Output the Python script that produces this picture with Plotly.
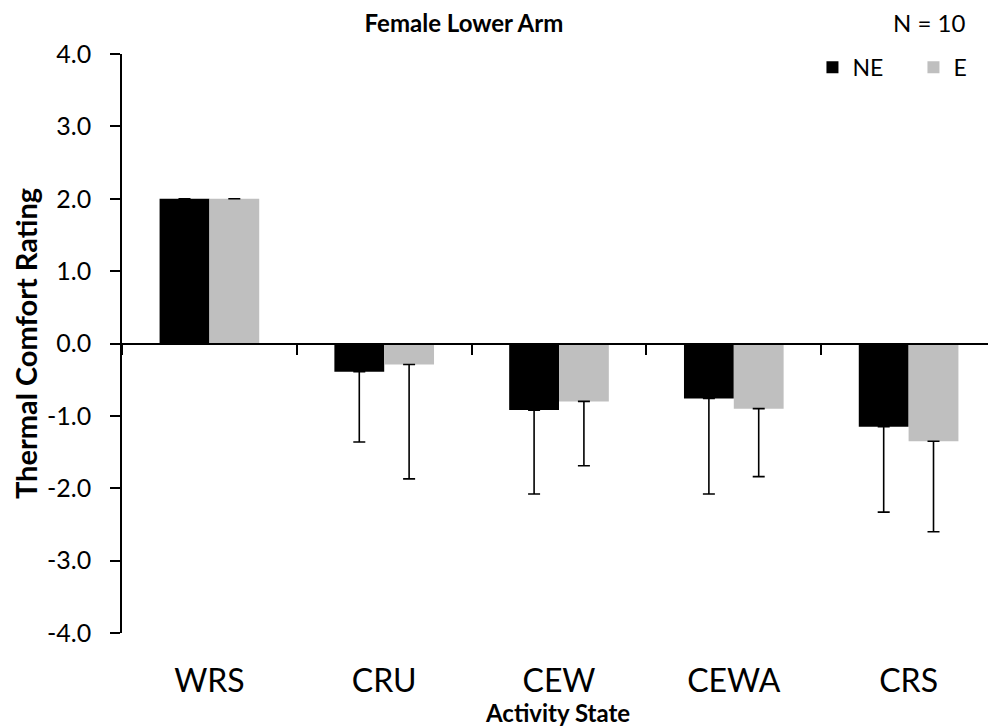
import plotly.graph_objects as go

categories = ["WRS", "CRU", "CEW", "CEWA", "CRS"]
ne_values = [2.0, -0.39, -0.92, -0.76, -1.15]
e_values = [2.0, -0.29, -0.80, -0.90, -1.35]
ne_err = [0.0, 0.97, 1.16, 1.32, 1.18]
e_err = [0.0, 1.58, 0.89, 0.94, 1.25]
y_ticks = [-4, -3, -2, -1, 0, 1, 2, 3, 4]
y_tick_labels = ["-4.0", "-3.0", "-2.0", "-1.0", "0.0", "1.0", "2.0", "3.0", "4.0"]

FONT = "Lato"

fig = go.Figure()
fig.add_trace(go.Bar(
    x=categories, y=ne_values, name="NE",
    marker=dict(color="#000000", line=dict(width=0)),
    error_y=dict(type="data", symmetric=False, array=[0]*5, arrayminus=ne_err,
                 color="#000000", thickness=1.6, width=6),
))
fig.add_trace(go.Bar(
    x=categories, y=e_values, name="E",
    marker=dict(color="#bfbfbf", line=dict(width=0)),
    error_y=dict(type="data", symmetric=False, array=[0]*5, arrayminus=e_err,
                 color="#000000", thickness=1.6, width=6),
))

fig.update_layout(
    width=988, height=720,
    margin=dict(l=114, r=0, t=46, b=95, autoexpand=False),
    paper_bgcolor="white", plot_bgcolor="white",
    barmode="group", bargap=0.43, bargroupgap=0,
    font=dict(family=FONT, color="#000000"),
    title=dict(text="<b>Female Lower Arm</b>", x=0.4615, xanchor="center", xref="container",
               y=0.978, yanchor="middle", yref="container", font=dict(size=24, family=FONT)),
    showlegend=True,
    legend=dict(orientation="h", x=0.790, xanchor="left", y=0.977, yanchor="middle",
                font=dict(size=23, family=FONT), entrywidth=56,
                bgcolor="rgba(0,0,0,0)", itemsizing="constant"),
    xaxis=dict(
        type="category", categoryorder="array", categoryarray=categories,
        range=[-0.5, 4.5], anchor="free", position=0.5,
        showline=True, linecolor="#000000", linewidth=2,
        ticks="outside", tickson="boundaries", ticklen=10, tickwidth=2, tickcolor="#000000",
        tickfont=dict(size=32, family=FONT), ticklabelstandoff=309,
        showgrid=False, zeroline=False,
    ),
    yaxis=dict(
        range=[-4, 4], tickvals=y_ticks, ticktext=y_tick_labels,
        showline=True, linecolor="#000000", linewidth=1.5,
        ticks="outside", ticklen=10, tickwidth=1.5, tickcolor="#000000",
        tickfont=dict(size=25, family=FONT), ticklabelstandoff=14,
        showgrid=False, zeroline=False,
        title=dict(text="<b>Thermal Comfort Rating</b>", font=dict(size=29, family=FONT), standoff=12),
    ),
    annotations=[
        dict(text="N = 10", x=0.923, y=1.055, xref="paper", yref="paper", showarrow=False,
             xanchor="center", yanchor="middle", font=dict(size=24, family=FONT)),
        dict(text="<b>Activity State</b>", x=0.498, y=-0.137, xref="paper", yref="paper",
             xanchor="center", yanchor="middle",
             showarrow=False, font=dict(size=24, family=FONT)),
    ],
)

fig.write_html("out.html")
